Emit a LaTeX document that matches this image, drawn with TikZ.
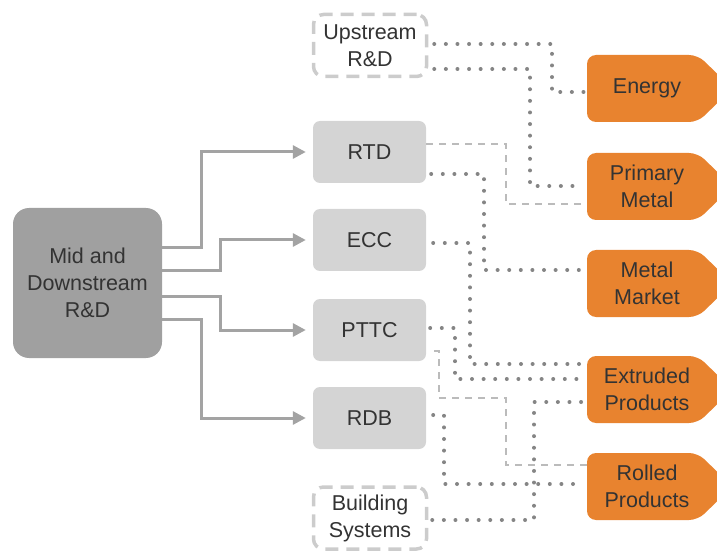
\documentclass[tikz,border=0pt]{standalone}
\usepackage{fontspec}
\setmainfont{Liberation Sans}
\usetikzlibrary{arrows.meta}
\definecolor{txt}{HTML}{333333}
\definecolor{maingray}{HTML}{A0A0A0}
\definecolor{boxgray}{HTML}{D4D4D4}
\definecolor{dashgray}{HTML}{CCCCCC}
\definecolor{arrgray}{HTML}{A3A3A3}
\definecolor{dotgray}{HTML}{858585}
\definecolor{thingray}{HTML}{BBBBBB}
\definecolor{orng}{HTML}{E8832F}
\newcommand\obox[3]{%
  \fill[orng,rounded corners=9pt] (587,#2-33.5) -- (698,#2-33.5) -- (724,#2-8) -- (724,#2+8) -- (698,#2+33.5) -- (587,#2+33.5) -- cycle;
  \node[otext] (#1) at (647,#2) {#3};}
\begin{document}
\begin{tikzpicture}[x=1pt,y=-1pt,
  every node/.style={font=\fontsize{21.5}{27}\selectfont,text=txt,align=center,inner sep=0pt},
  mainbox/.style={fill=maingray,rounded corners=16pt,minimum width=149pt,minimum height=150pt},
  graybox/.style={fill=boxgray,rounded corners=7pt,minimum width=113pt,minimum height=62pt},
  ghostbox/.style={draw=dashgray,line width=3.5pt,dash pattern=on 13pt off 8pt,rounded corners=10pt,minimum width=113pt,minimum height=62pt},
  otext/.style={minimum width=120pt,minimum height=67pt},
  arr/.style={draw=arrgray,line width=3pt,-{Triangle[length=13pt,width=13pt]},shorten >=7pt},
  dotl/.style={draw=dotgray,line width=4pt,line cap=round,dash pattern=on 0pt off 11.6pt},
  dashl/.style={draw=thingray,line width=1.6pt,dash pattern=on 7pt off 6pt}]
\useasboundingbox (0,0) rectangle (717,553);
\clip (0,0) rectangle (717,553);
% nodes
\node[mainbox] (main) at (87.5,283) {Mid and\\Downstream\\R\&D};
\node[graybox] (rtd) at (369.5,152) {RTD};
\node[graybox] (ecc) at (369.5,240) {ECC};
\node[graybox] (pttc) at (369.5,330) {PTTC};
\node[graybox] (rdb) at (369.5,418) {RDB};
\node[ghostbox] (up) at (370,45.5) {Upstream\\R\&D};
\node[ghostbox] (bs) at (370,518) {Building\\Systems};
\obox{energy}{88.5}{Energy}
\obox{pm}{186.5}{Primary\\Metal}
\obox{mm}{283.5}{Metal\\Market}
\obox{ext}{389.5}{Extruded\\Products}
\obox{rol}{486.5}{Rolled\\Products}
% arrows
\draw[arr] (main.east |- 0,248) -- (201,248) |- (rtd.west);
\draw[arr] (main.east |- 0,271) -- (220,271) |- (ecc.west);
\draw[arr] (main.east |- 0,296) -- (220,296) |- (pttc.west);
\draw[arr] (main.east |- 0,319) -- (201,319) |- (rdb.west);
% dotted connectors
\draw[dotl] ([xshift=6pt]up.east |- 0,44) -- (552,44) |- ([xshift=-3pt]energy.west |- 0,92);
\draw[dotl] ([xshift=6pt]up.east |- 0,69) -- (530,69) |- ([xshift=-3pt]pm.west |- 0,186);
\draw[dotl] ([xshift=5pt]rtd.east |- 0,174) -- (484,174) |- ([xshift=-3pt]mm.west |- 0,270);
\draw[dotl] ([xshift=7pt]ecc.east |- 0,243) -- (470,243) |- ([xshift=-3pt]ext.west |- 0,364);
\draw[dotl] ([xshift=4pt]pttc.east |- 0,328) -- (455,328) |- ([xshift=-3pt]ext.west |- 0,379);
\draw[dotl] ([xshift=7pt]rdb.east |- 0,415) -- (444,415) |- ([xshift=-3pt]rol.west |- 0,484);
\draw[dotl] ([xshift=4pt]bs.east |- 0,520) -- (534,520) |- ([xshift=-3pt]ext.west |- 0,402);
% dashed connectors
\draw[dashl] (rtd.east |- 0,144) -- (506,144) |- (pm.west |- 0,204);
\draw[dashl] ([xshift=8pt]pttc.east |- 0,351) -- (439,351) -- (439,398) -- (506,398) |- (rol.west |- 0,465);
\end{tikzpicture}
\end{document}
